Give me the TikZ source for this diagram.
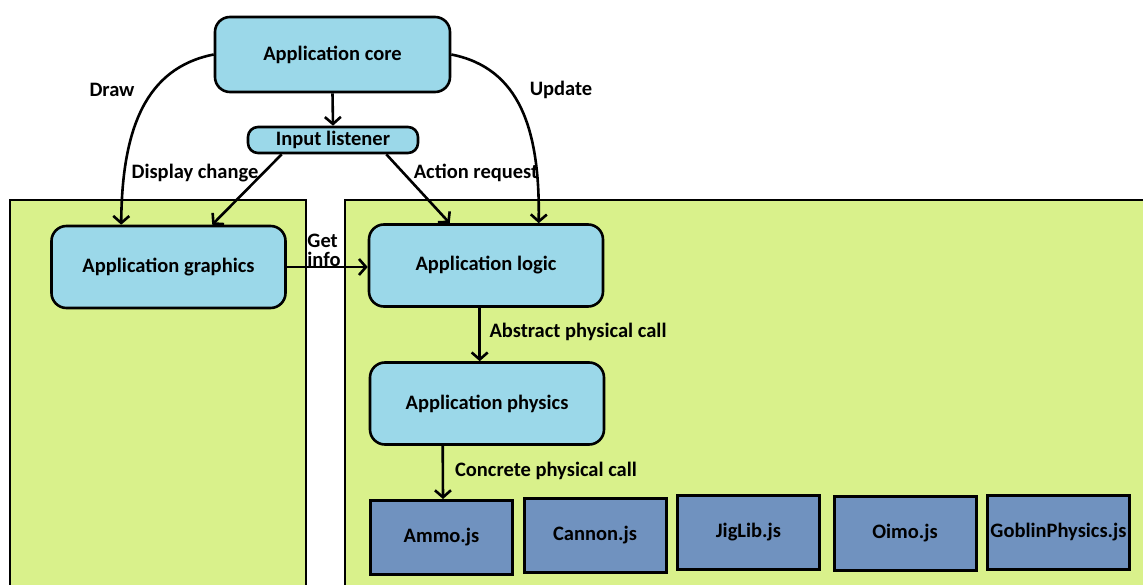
\documentclass[tikz,border=0pt]{standalone}
\usepackage{fontspec}
\setmainfont{Carlito}
\usetikzlibrary{arrows.meta}
\definecolor{panelgreen}{RGB}{217,241,139}
\definecolor{boxblue}{RGB}{155,216,233}
\definecolor{libblue}{RGB}{112,146,191}
\newcommand{\dfont}{\bfseries\fontsize{20.5}{23}\selectfont}
\tikzset{
  panel/.style={draw=black, line width=2pt, fill=panelgreen},
  appbox/.style={draw=black, line width=2.6pt, fill=boxblue, rounded corners=15pt, minimum width=234pt, minimum height=82pt, font=\dfont, inner sep=0pt},
  listenbox/.style={draw=black, line width=2.6pt, fill=boxblue, rounded corners=10pt, minimum width=170pt, minimum height=26pt, font=\dfont, inner sep=0pt},
  libbox/.style={draw=black, line width=3pt, fill=libblue, minimum width=142pt, minimum height=74pt, font=\dfont, inner sep=0pt},
  lbl/.style={font=\dfont, inner sep=0pt, align=left},
  arr/.style={line width=2.6pt, -{Straight Barb[length=7pt,width=16pt,line width=2.6pt]}},
}
\begin{document}
\begin{tikzpicture}[x=1pt,y=-1pt]
\useasboundingbox (0,0) rectangle (1143,585);
\clip (0,0) rectangle (1143,585);
\fill[white] (0,0) rectangle (1143,585);
% panels
\draw[panel] (10,200) rectangle (306,600);
\draw[panel] (345,200) rectangle (1160,600);
% nodes
\node[appbox, minimum width=235pt, minimum height=75pt] (core) at (332.5,54.5) {\raisebox{3pt}{Application core}};
\node[listenbox] (listener) at (333,140) {Input listener};
\node[appbox] (graphics) at (168.5,267) {Application graphics};
\node[appbox] (logic) at (486,265.5) {Application logic};
\node[appbox] (physics) at (487,403.5) {Application physics};
\node[libbox] (ammo) at (441.5,537.5) {Ammo.js};
\node[libbox] (cannon) at (595,535.5) {Cannon.js};
\node[libbox] (jiglib) at (748.5,532) {JigLib.js};
\node[libbox] (oimo) at (905,533.5) {Oimo.js};
\node[libbox] (goblin) at (1058.5,532.5) {GoblinPhysics.js};
% labels
\node[lbl] (ldraw) at (112,90) {Draw};
\node[lbl] (lupdate) at (561,90) {Update};
\node[lbl] (ldisp) at (195,173) {Display change};
\node[lbl] (lact) at (476,173) {Action request};
\node[lbl, align=left] (lget) at (324,250) {Get\\[-4pt]info};
\node[lbl] (labs) at (578,332) {Abstract physical call};
\node[lbl] (lconc) at (546,471) {Concrete physical call};
% connectors
\draw[arr] (core.south) -- (listener.north);
\draw[arr] (core.west) .. controls (145,68) and (122,130) .. ([xshift=71pt]graphics.north west);
\draw[arr] (core.east) .. controls (520,68) and (540,130) .. ([xshift=171pt]logic.north west);
\draw[arr] ([xshift=35pt]listener.south west) -- ([xshift=162pt]graphics.north west);
\draw[arr] ([xshift=-33pt]listener.south east) -- ([xshift=82pt]logic.north west);
\draw[arr] (graphics.east) -- (graphics.east -| logic.west);
\draw[arr] ([xshift=112pt]logic.south west) -- ([xshift=111pt]physics.north west);
\draw[arr] ([xshift=74pt]physics.south west) -- ([xshift=74pt]ammo.north west);
\end{tikzpicture}
\end{document}
